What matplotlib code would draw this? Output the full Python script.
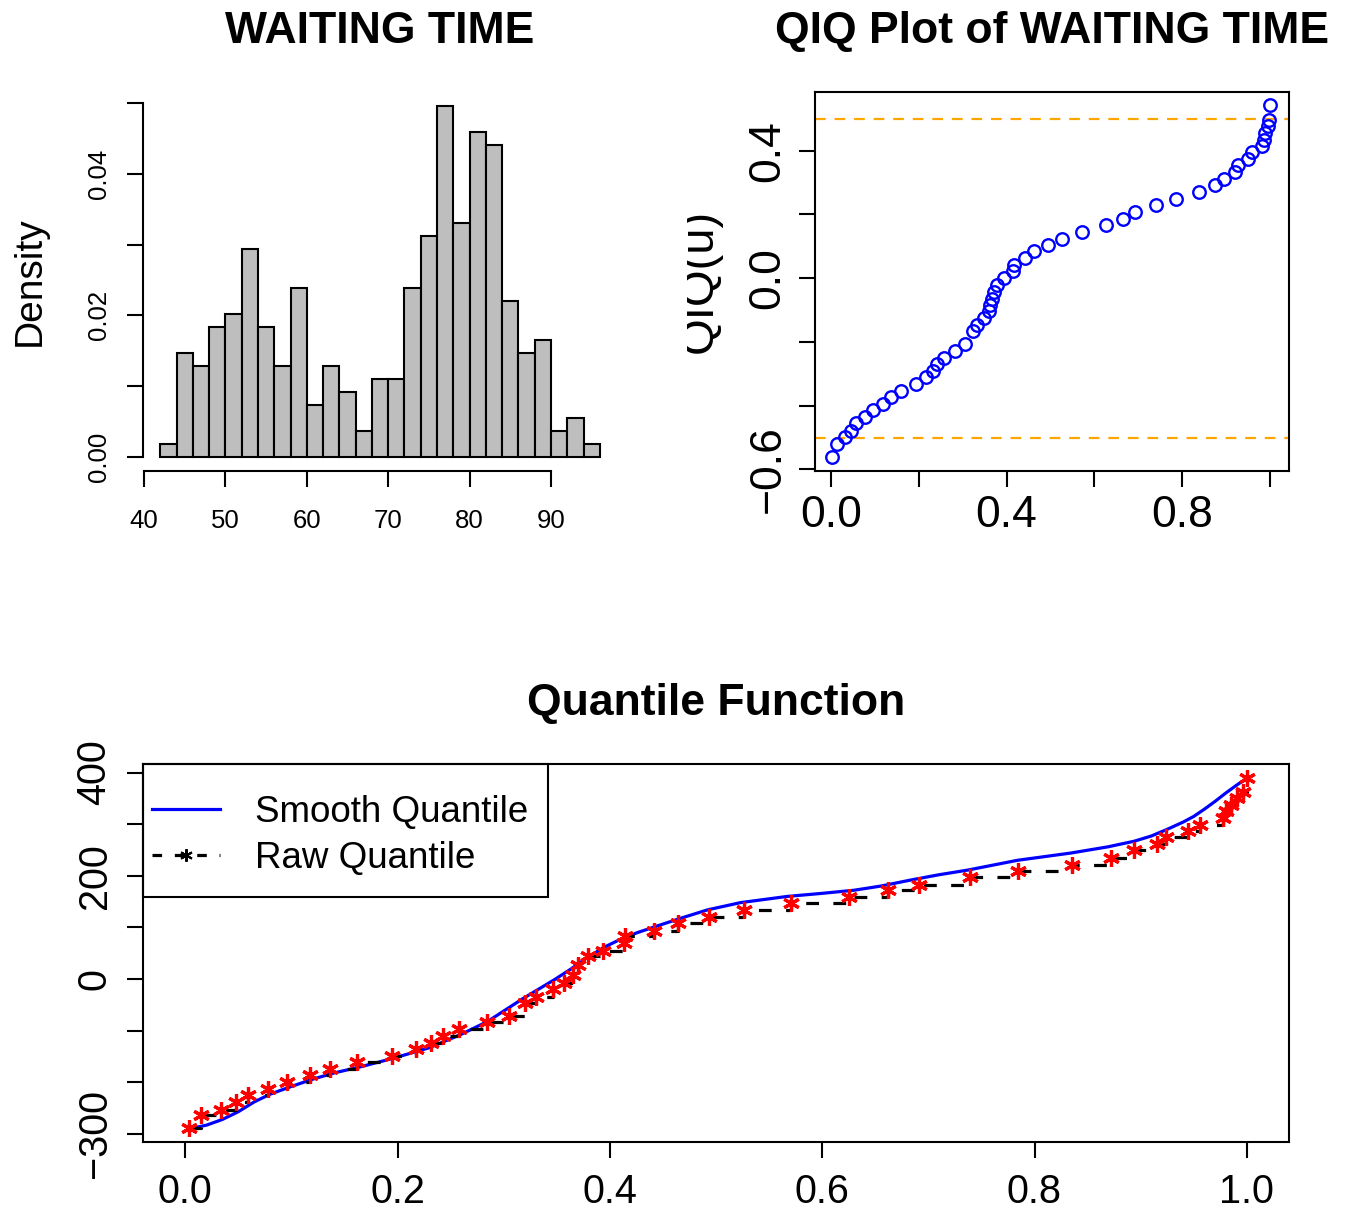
import numpy as np
import matplotlib
matplotlib.use('Agg')
import matplotlib.pyplot as plt
from matplotlib.lines import Line2D
from matplotlib.patches import Rectangle
from matplotlib.transforms import Bbox, TransformedBbox

plt.rcParams['font.family'] = ['Liberation Sans', 'DejaVu Sans']

# histogram of waiting time (bin width 2)
bin_edges = np.arange(42, 98, 2)
counts = [1, 8, 7, 10, 11, 16, 10, 7, 13, 4, 7, 5, 2, 6, 6, 13, 17, 27, 18,
          25, 24, 12, 8, 9, 2, 3, 1]

# QIQ plot points
u_qiq = [0.003, 0.014, 0.033, 0.046, 0.056, 0.077, 0.095, 0.118, 0.137, 0.160,
         0.194, 0.217, 0.232, 0.242, 0.258, 0.283, 0.306, 0.323, 0.333, 0.348,
         0.359, 0.363, 0.367, 0.371, 0.377, 0.395, 0.415, 0.416, 0.442, 0.463,
         0.494, 0.527, 0.571, 0.627, 0.664, 0.693, 0.741, 0.786, 0.837, 0.874,
         0.896, 0.919, 0.926, 0.949, 0.959, 0.982, 0.985, 0.989, 0.995, 0.998, 1.0]
qiq = [-0.560, -0.520, -0.499, -0.478, -0.455, -0.436, -0.414, -0.394, -0.374, -0.353,
       -0.332, -0.311, -0.292, -0.270, -0.249, -0.228, -0.207, -0.167, -0.147, -0.126,
       -0.104, -0.084, -0.064, -0.043, -0.023, 0.000, 0.021, 0.042, 0.063, 0.084,
       0.105, 0.124, 0.144, 0.167, 0.186, 0.207, 0.228, 0.249, 0.270, 0.291,
       0.312, 0.333, 0.354, 0.375, 0.396, 0.414, 0.434, 0.455, 0.476, 0.497, 0.542]

# raw quantile function
u_raw = [0.004, 0.015, 0.034, 0.048, 0.059, 0.078, 0.096, 0.118, 0.136, 0.162,
         0.195, 0.217, 0.232, 0.243, 0.258, 0.284, 0.305, 0.320, 0.330, 0.346,
         0.357, 0.365, 0.370, 0.379, 0.394, 0.413, 0.414, 0.442, 0.464, 0.493,
         0.526, 0.571, 0.625, 0.662, 0.691, 0.739, 0.784, 0.835, 0.872, 0.894,
         0.915, 0.924, 0.945, 0.956, 0.978, 0.980, 0.985, 0.991, 0.996, 1.0]
q_raw = [-289, -264, -253, -238, -224, -213, -200, -185, -174, -161,
         -149, -136, -123, -111, -97, -84, -71, -47, -34, -19,
         -8, 8, 28, 44, 55, 70, 83, 94, 108, 120,
         133, 147, 159, 172, 183, 198, 210, 221, 234, 249,
         262, 275, 286, 299, 312, 325, 338, 351, 363, 389]

# smooth quantile function
u_smooth = [0.004, 0.02, 0.035, 0.05, 0.065, 0.08, 0.10, 0.12, 0.14, 0.165,
            0.195, 0.23, 0.26, 0.285, 0.30, 0.318, 0.335, 0.348, 0.363, 0.379,
            0.395, 0.41, 0.426, 0.442, 0.464, 0.492, 0.523, 0.567, 0.60, 0.63,
            0.655, 0.684, 0.71, 0.737, 0.784, 0.834, 0.869, 0.894, 0.91, 0.925,
            0.94, 0.95, 0.96, 0.97, 0.98, 0.99, 1.0]
q_smooth = [-290, -283, -272, -257, -238, -223, -208, -194, -182, -170,
            -154, -133, -107, -82, -62, -38, -17, -1, 19, 42,
            62, 77, 90, 101, 116, 134, 148, 160, 166, 172,
            180, 192, 202, 211, 230, 244, 256, 267, 277, 290,
            304, 315, 329, 344, 360, 375, 389]

W, H = 1351, 1209
fig = plt.figure(figsize=(W / 100, H / 100), dpi=100)


def px_axes(l, t, r, b):
    return fig.add_axes([l / W, 1 - b / H, (r - l) / W, (b - t) / H])


tick_kw = dict(direction='out', length=11.5, width=1.5, color='black')

# ---- histogram ----
ax1 = px_axes(142.7, 92, 617.4, 470.7)
dens = np.array(counts) / (sum(counts) * 2.0)
ax1.bar(bin_edges[:-1], dens, width=2, align='edge', color='#BEBEBE',
        edgecolor='black', linewidth=1.5)
ax1.set_xlim(39.84, 98.16)
ax1.set_ylim(-0.001985, 0.05162)
for s in ['top', 'right']:
    ax1.spines[s].set_visible(False)
ax1.spines['left'].set_bounds(0, 0.05)
ax1.spines['bottom'].set_bounds(40, 90)
for s in ['left', 'bottom']:
    ax1.spines[s].set_linewidth(1.5)
ax1.set_xticks([40, 50, 60, 70, 80, 90])
ax1.set_yticks([0, 0.01, 0.02, 0.03, 0.04, 0.05],
               ['0.00', '', '0.02', '', '0.04', ''])
ax1.tick_params(axis='x', labelsize=18.5, pad=16, **tick_kw)
ax1.tick_params(axis='y', labelsize=18.5, pad=11.5, labelrotation=90, **tick_kw)
for lab in ax1.get_yticklabels():
    lab.set_va('center')
fig.text(380 / W, 1 - 43.3 / H, 'WAITING TIME', ha='center', va='baseline',
         fontsize=32, fontweight='bold')
fig.text(40 / W, 1 - 281 / H, 'Density', rotation=90, rotation_mode='anchor',
         ha='center', va='baseline', fontsize=28)

# ---- QIQ plot ----
ax2 = px_axes(814.7, 92, 1289, 470.7)
ax2.axhline(0.5, color='orange', lw=1.6, ls=(0, (4.8, 4.0)))
ax2.axhline(-0.5, color='orange', lw=1.6, ls=(0, (4.8, 4.0)))
ax2.plot(u_qiq, qiq, 'o', mfc='none', mec='blue', ms=9, mew=1.7)
ax2.set_xlim(-0.037, 1.043)
ax2.set_ylim(-0.604, 0.584)
for s in ax2.spines.values():
    s.set_linewidth(1.5)
ax2.set_xticks([0, 0.2, 0.4, 0.6, 0.8, 1.0], ['0.0', '', '0.4', '', '0.8', ''])
ax2.set_yticks([-0.6, -0.4, -0.2, 0.0, 0.2, 0.4],
               ['\u22120.6', '', '', '0.0', '', '0.4'])
ax2.tick_params(axis='x', labelsize=32, pad=6, **tick_kw)
ax2.tick_params(axis='y', labelsize=32, pad=7.5, labelrotation=90, **tick_kw)
for lab in ax2.get_yticklabels():
    lab.set_va('center')
fig.text(1052 / W, 1 - 43.3 / H, 'QIQ Plot of WAITING TIME', ha='center',
         va='baseline', fontsize=32, fontweight='bold')
ql = fig.text(712 / W, 1 - 281 / H, 'QIQ(u)', rotation=90, rotation_mode='anchor',
              ha='center', va='baseline', fontsize=34)
ql.set_clip_box(TransformedBbox(Bbox.from_extents(687 / W, 0, 1, 1), fig.transFigure))
ql.set_clip_on(True)

# ---- quantile function ----
ax3 = px_axes(142.7, 764, 1289.3, 1141.7)
ax3.plot(u_smooth, q_smooth, color='blue', lw=2.3)
ax3.plot(u_raw, q_raw, color='black', lw=2.3, ls=(0, (4, 4.5)), drawstyle='steps-post')
ax3.plot(u_raw, q_raw, ls='none', marker=(6, 2, 0), color='red', ms=12, mew=2.3)
ax3.set_xlim(-0.04, 1.04)
ax3.set_ylim(-315, 416.5)
for s in ax3.spines.values():
    s.set_linewidth(1.5)
ax3.set_xticks([0, 0.2, 0.4, 0.6, 0.8, 1.0], ['0.0', '0.2', '0.4', '0.6', '0.8', '1.0'])
ax3.set_yticks([-300, -200, -100, 0, 100, 200, 300, 400],
               ['\u2212300', '', '', '0', '', '200', '', '400'])
ax3.tick_params(axis='x', labelsize=28.5, pad=11, **tick_kw)
ax3.tick_params(axis='y', labelsize=28.5, pad=9.5, labelrotation=90, **tick_kw)
for lab in ax3.get_yticklabels():
    lab.set_va('center')
fig.text(716 / W, 1 - 715 / H, 'Quantile Function', ha='center', va='baseline',
         fontsize=32, fontweight='bold')

ax3.add_patch(Rectangle((0, 0.647), 0.3537, 0.353, transform=ax3.transAxes,
                        fill=False, ec='black', lw=1.5, clip_on=False, zorder=5))
handles = [Line2D([], [], color='blue', lw=2.3),
           Line2D([], [], color='black', lw=2.3, ls=(0, (3, 4)),
                  marker=(6, 2, 0), ms=9, mew=1.5)]
ax3.legend(handles, ['Smooth Quantile', 'Raw Quantile'], loc='upper left',
           bbox_to_anchor=(-0.0185, 1.0), borderaxespad=0, borderpad=0.83,
           frameon=False, fontsize=26.5, handlelength=1.85, handletextpad=0.95,
           labelspacing=0.3, numpoints=1)

fig.savefig('out.png', dpi=100, facecolor='white')
